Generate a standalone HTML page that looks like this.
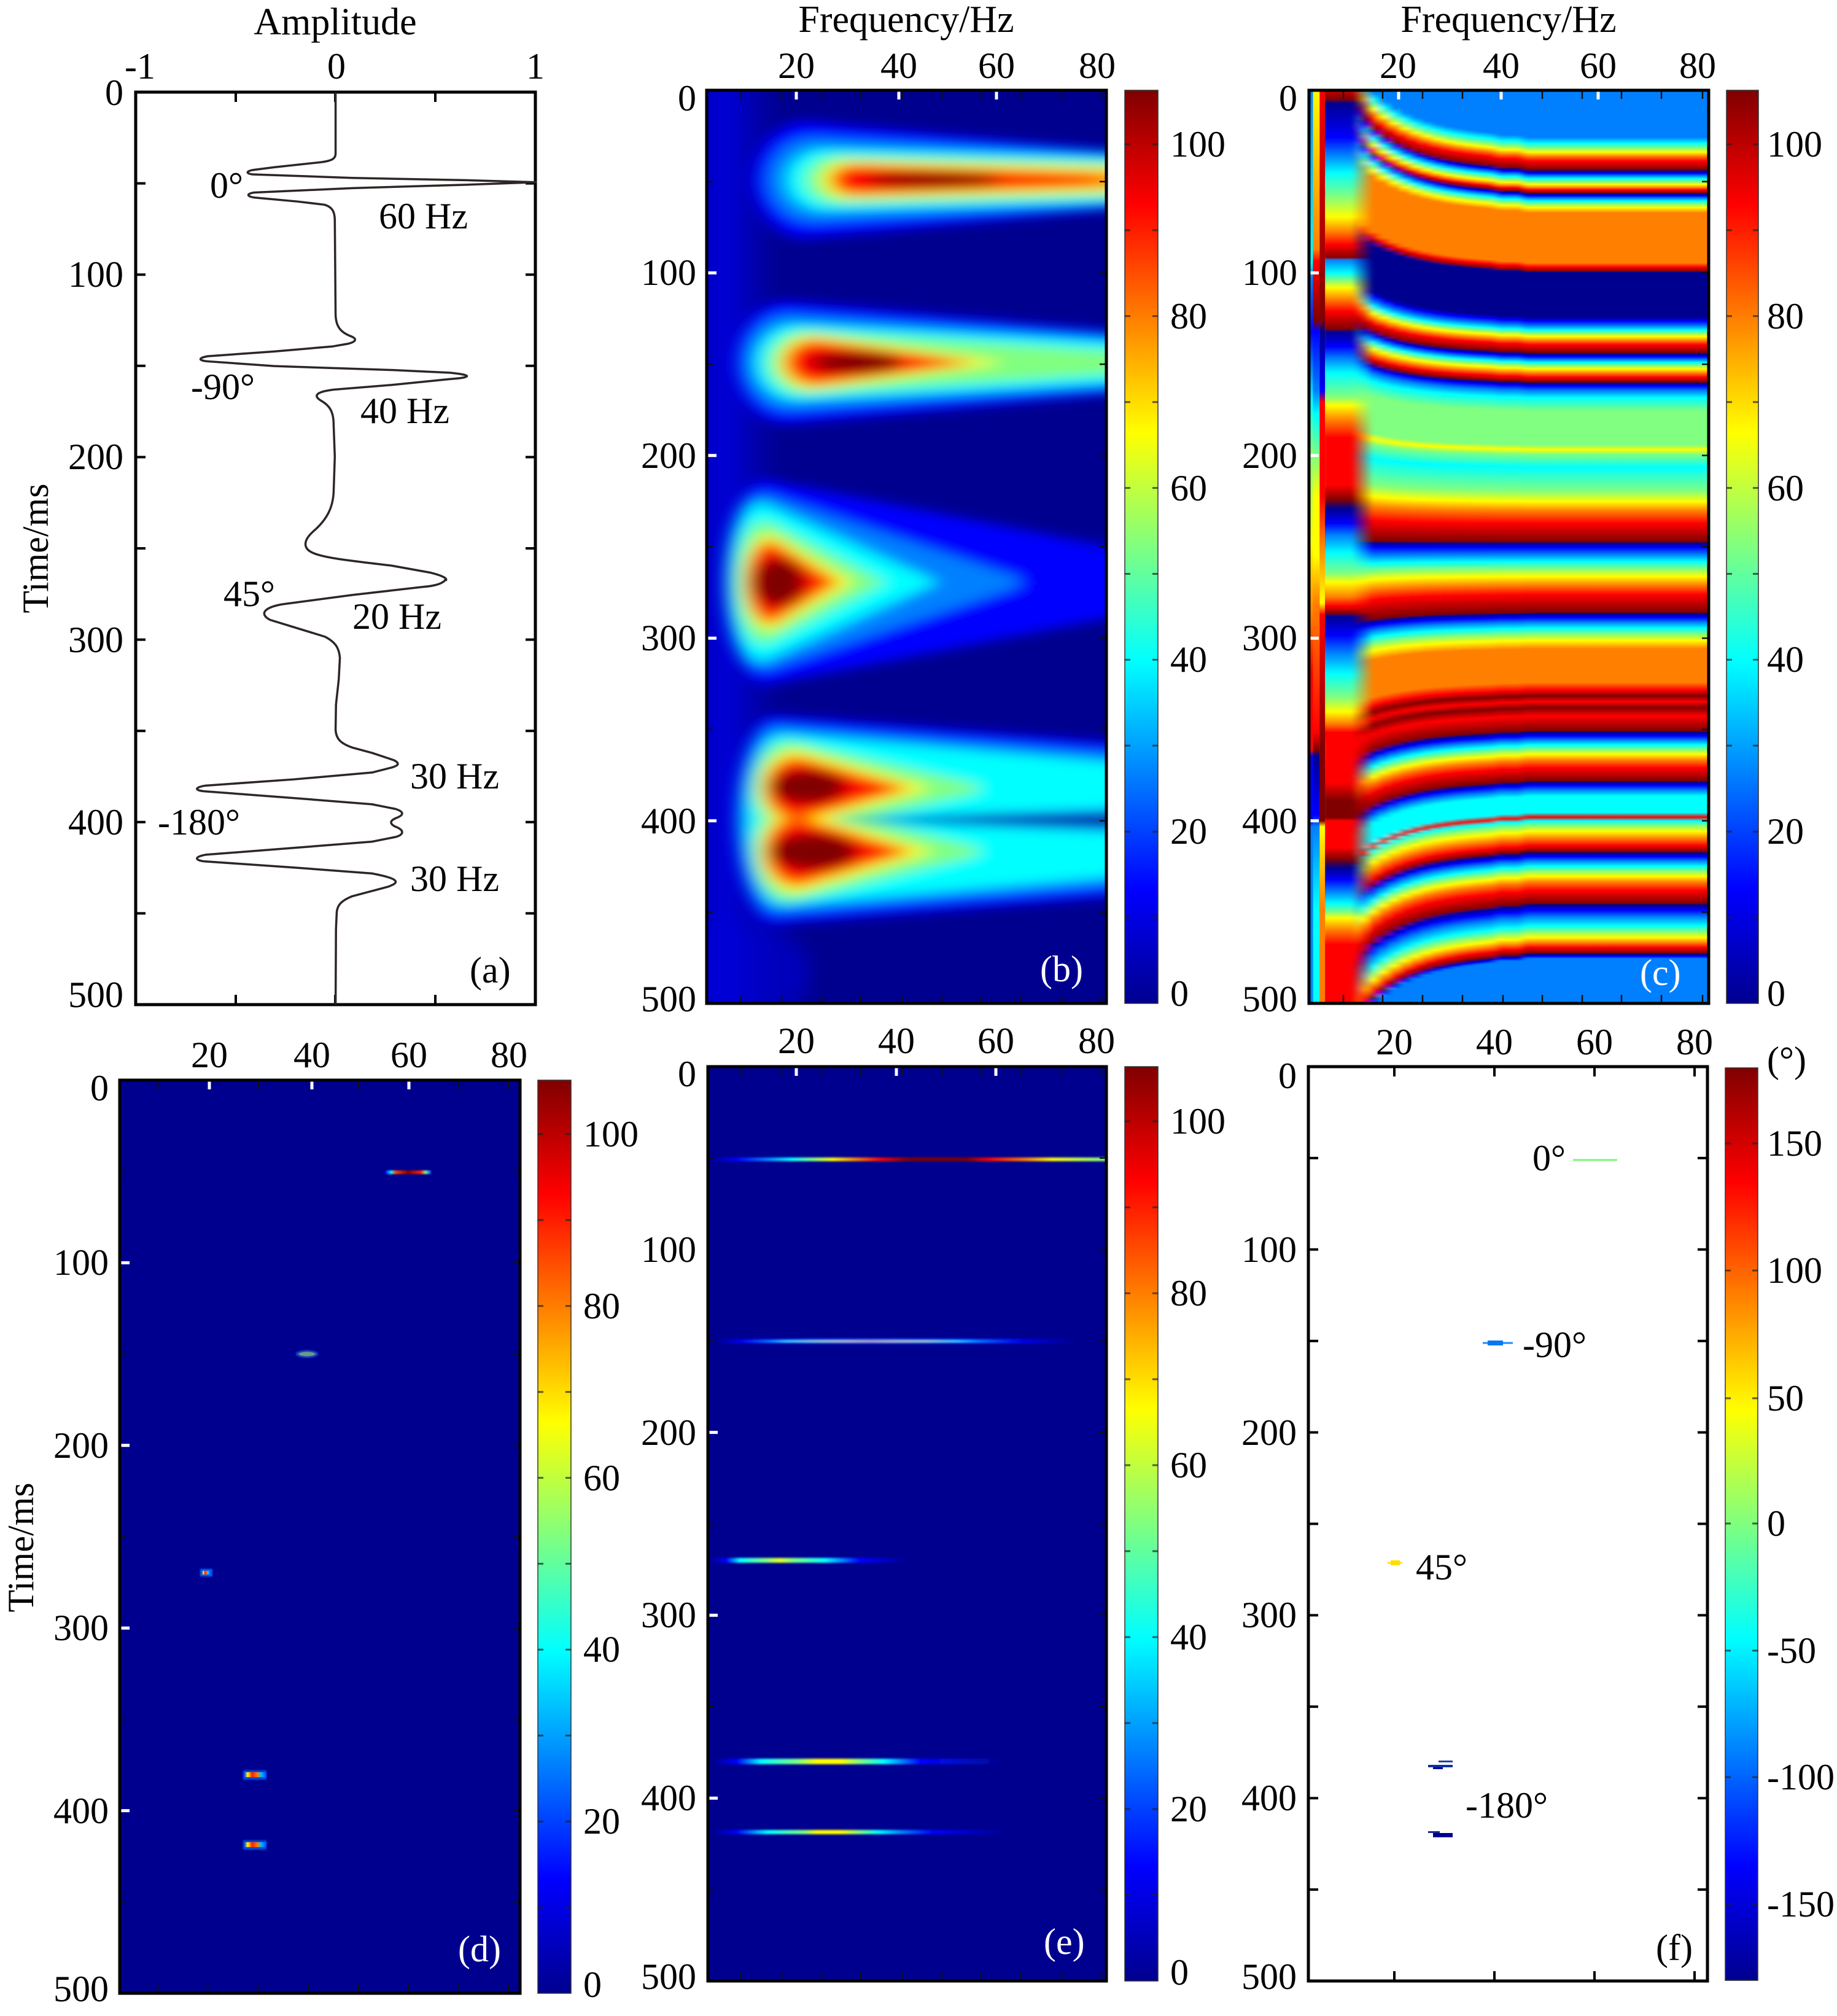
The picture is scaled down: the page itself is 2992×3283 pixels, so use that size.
<!DOCTYPE html>
<html><head><meta charset="utf-8">
<style>
html,body{margin:0;padding:0;background:#fff;width:2992px;height:3283px;overflow:hidden}
svg{display:block}
text{font-family:"Liberation Serif","Times New Roman",serif;font-size:60px;fill:#000}
</style></head>
<body>
<svg width="2992" height="3283" viewBox="0 0 2992 3283" xmlns="http://www.w3.org/2000/svg">
<defs>
<linearGradient id="jet" x1="0" y1="1" x2="0" y2="0">
<stop offset="0" stop-color="#00008F"/><stop offset=".125" stop-color="#0000FF"/><stop offset=".375" stop-color="#00FFFF"/><stop offset=".625" stop-color="#FFFF00"/><stop offset=".875" stop-color="#FF0000"/><stop offset="1" stop-color="#800000"/>
</linearGradient>
<filter id="fb" x="-5%" y="-5%" width="110%" height="110%"><feGaussianBlur stdDeviation="32 10"/></filter>
<filter id="fs" x="-10%" y="-10%" width="120%" height="120%"><feGaussianBlur stdDeviation="30 20"/></filter>
<filter id="fc" x="-5%" y="-1%" width="110%" height="102%"><feGaussianBlur stdDeviation="14 0.5"/></filter>
<filter id="fc2" x="-10%" y="-1%" width="120%" height="102%"><feGaussianBlur stdDeviation="8 1"/></filter>
<filter id="fl" x="-5%" y="-200%" width="110%" height="500%"><feGaussianBlur stdDeviation="1 1.5"/></filter>
<filter id="fd" x="-50%" y="-100%" width="200%" height="300%"><feGaussianBlur stdDeviation="1.2"/></filter>
<linearGradient id="smear" gradientUnits="userSpaceOnUse" x1="30" y1="0" x2="300" y2="0">
<stop offset="0" stop-color="#0000C8"/><stop offset=".3" stop-color="#0000D8"/><stop offset=".55" stop-color="#0000B8"/><stop offset="1" stop-color="#00008F"/>
</linearGradient>
<linearGradient id="cR" gradientUnits="userSpaceOnUse" x1="0" y1="0" x2="0" y2="10000">
<stop offset="0" stop-color="#0080FF"/><stop offset=".0090" stop-color="#0080FF"/><stop offset=".0100" stop-color="#00FFFF"/><stop offset=".0108" stop-color="#80FF80"/><stop offset=".0115" stop-color="#FFFF00"/><stop offset=".0122" stop-color="#FF8000"/><stop offset=".0130" stop-color="#FF0000"/><stop offset=".0145" stop-color="#800000"/>
<stop offset=".0147" stop-color="#00008F"/><stop offset=".0151" stop-color="#0000FF"/><stop offset=".0155" stop-color="#0080FF"/><stop offset=".0160" stop-color="#00FFFF"/><stop offset=".0165" stop-color="#80FF80"/><stop offset=".0170" stop-color="#FFFF00"/><stop offset=".0175" stop-color="#FF8000"/><stop offset=".0179" stop-color="#FF0000"/><stop offset=".0184" stop-color="#800000"/>
<stop offset=".0186" stop-color="#00008F"/><stop offset=".0189" stop-color="#0000FF"/><stop offset=".0193" stop-color="#0080FF"/><stop offset=".0198" stop-color="#00FFFF"/><stop offset=".0203" stop-color="#80FF80"/><stop offset=".0209" stop-color="#FFFF00"/><stop offset=".0218" stop-color="#FF8000"/><stop offset=".0303" stop-color="#FF8000"/><stop offset=".0310" stop-color="#FF0000"/><stop offset=".0317" stop-color="#800000"/>
<stop offset=".0319" stop-color="#00008F"/><stop offset=".0395" stop-color="#00008F"/><stop offset=".0402" stop-color="#0000FF"/><stop offset=".0410" stop-color="#0080FF"/><stop offset=".0417" stop-color="#00FFFF"/><stop offset=".0422" stop-color="#80FF80"/><stop offset=".0428" stop-color="#FFFF00"/><stop offset=".0435" stop-color="#FF8000"/><stop offset=".0442" stop-color="#FF0000"/><stop offset=".0455" stop-color="#800000"/>
<stop offset=".0458" stop-color="#00008F"/><stop offset=".0462" stop-color="#0000FF"/><stop offset=".0467" stop-color="#0080FF"/><stop offset=".0472" stop-color="#00FFFF"/><stop offset=".0477" stop-color="#80FF80"/><stop offset=".0483" stop-color="#FFFF00"/><stop offset=".0490" stop-color="#FF8000"/><stop offset=".0497" stop-color="#FF0000"/><stop offset=".0505" stop-color="#800000"/>
<stop offset=".0508" stop-color="#00008F"/><stop offset=".0512" stop-color="#0000FF"/><stop offset=".0520" stop-color="#0080FF"/><stop offset=".0532" stop-color="#00FFFF"/><stop offset=".0555" stop-color="#80FF80"/><stop offset=".0612" stop-color="#80FF80"/><stop offset=".0620" stop-color="#FFFF00"/><stop offset=".0628" stop-color="#80FF80"/><stop offset=".0650" stop-color="#00FFFF"/><stop offset=".0690" stop-color="#80FF80"/><stop offset=".0708" stop-color="#FFFF00"/><stop offset=".0724" stop-color="#FF8000"/><stop offset=".0745" stop-color="#FF0000"/><stop offset=".0776" stop-color="#800000"/>
<stop offset=".0779" stop-color="#00008F"/><stop offset=".0786" stop-color="#0000FF"/><stop offset=".0798" stop-color="#0080FF"/><stop offset=".0810" stop-color="#00FFFF"/><stop offset=".0822" stop-color="#80FF80"/><stop offset=".0835" stop-color="#FFFF00"/><stop offset=".0850" stop-color="#FF8000"/><stop offset=".0866" stop-color="#FF0000"/><stop offset=".0896" stop-color="#800000"/>
<stop offset=".0899" stop-color="#00008F"/><stop offset=".0905" stop-color="#0000FF"/><stop offset=".0913" stop-color="#0080FF"/><stop offset=".0923" stop-color="#00FFFF"/><stop offset=".0933" stop-color="#80FF80"/><stop offset=".0944" stop-color="#FFFF00"/><stop offset=".0958" stop-color="#FF8000"/><stop offset=".1015" stop-color="#FF8000"/><stop offset=".1028" stop-color="#FF0000"/><stop offset=".1038" stop-color="#800000"/><stop offset=".1048" stop-color="#FF0000"/><stop offset=".1058" stop-color="#800000"/><stop offset=".1072" stop-color="#FF0000"/><stop offset=".1097" stop-color="#800000"/>
<stop offset=".1100" stop-color="#00008F"/><stop offset=".1106" stop-color="#0000FF"/><stop offset=".1113" stop-color="#0080FF"/><stop offset=".1121" stop-color="#00FFFF"/><stop offset=".1129" stop-color="#80FF80"/><stop offset=".1137" stop-color="#FFFF00"/><stop offset=".1147" stop-color="#FF8000"/><stop offset=".1160" stop-color="#FF0000"/><stop offset=".1182" stop-color="#800000"/>
<stop offset=".1185" stop-color="#00008F"/><stop offset=".1190" stop-color="#0000FF"/><stop offset=".1198" stop-color="#0080FF"/><stop offset=".1208" stop-color="#00FFFF"/><stop offset=".1236" stop-color="#00FFFF"/><stop offset=".1244" stop-color="#FF0000"/><stop offset=".1250" stop-color="#00FFFF"/><stop offset=".1258" stop-color="#80FF80"/><stop offset=".1268" stop-color="#FFFF00"/><stop offset=".1280" stop-color="#FF8000"/><stop offset=".1292" stop-color="#FF0000"/><stop offset=".1302" stop-color="#800000"/>
<stop offset=".1305" stop-color="#00008F"/><stop offset=".1311" stop-color="#0000FF"/><stop offset=".1318" stop-color="#0080FF"/><stop offset=".1327" stop-color="#00FFFF"/><stop offset=".1335" stop-color="#80FF80"/><stop offset=".1344" stop-color="#FFFF00"/><stop offset=".1354" stop-color="#FF8000"/><stop offset=".1368" stop-color="#FF0000"/><stop offset=".1390" stop-color="#800000"/>
<stop offset=".1393" stop-color="#00008F"/><stop offset=".1402" stop-color="#0000FF"/><stop offset=".1413" stop-color="#0080FF"/><stop offset=".1428" stop-color="#00FFFF"/><stop offset=".1438" stop-color="#80FF80"/><stop offset=".1448" stop-color="#FFFF00"/><stop offset=".1457" stop-color="#FF8000"/><stop offset=".1465" stop-color="#FF0000"/><stop offset=".1474" stop-color="#800000"/>
<stop offset=".1477" stop-color="#00008F"/><stop offset=".1480" stop-color="#0000FF"/><stop offset=".1484" stop-color="#0080FF"/><stop offset="1" stop-color="#0080FF"/>
</linearGradient>
<linearGradient id="s02" href="#cR" gradientUnits="userSpaceOnUse" x1="0" y1="0" x2="0" y2="10000" gradientTransform="matrix(1 0 0 1.1978 0 -155.3)"/>
<linearGradient id="s03" href="#cR" gradientUnits="userSpaceOnUse" x1="0" y1="0" x2="0" y2="10000" gradientTransform="matrix(1 0 0 1.1620 0 -127.2)"/>
<linearGradient id="s04" href="#cR" gradientUnits="userSpaceOnUse" x1="0" y1="0" x2="0" y2="10000" gradientTransform="matrix(1 0 0 1.1326 0 -104.1)"/>
<linearGradient id="s05" href="#cR" gradientUnits="userSpaceOnUse" x1="0" y1="0" x2="0" y2="10000" gradientTransform="matrix(1 0 0 1.1086 0 -85.2)"/>
<linearGradient id="s06" href="#cR" gradientUnits="userSpaceOnUse" x1="0" y1="0" x2="0" y2="10000" gradientTransform="matrix(1 0 0 1.0889 0 -69.8)"/>
<linearGradient id="s07" href="#cR" gradientUnits="userSpaceOnUse" x1="0" y1="0" x2="0" y2="10000" gradientTransform="matrix(1 0 0 1.0728 0 -57.1)"/>
<linearGradient id="s08" href="#cR" gradientUnits="userSpaceOnUse" x1="0" y1="0" x2="0" y2="10000" gradientTransform="matrix(1 0 0 1.0596 0 -46.8)"/>
<linearGradient id="s09" href="#cR" gradientUnits="userSpaceOnUse" x1="0" y1="0" x2="0" y2="10000" gradientTransform="matrix(1 0 0 1.0488 0 -38.3)"/>
<linearGradient id="s10" href="#cR" gradientUnits="userSpaceOnUse" x1="0" y1="0" x2="0" y2="10000" gradientTransform="matrix(1 0 0 1.0399 0 -31.4)"/>
<linearGradient id="s11" href="#cR" gradientUnits="userSpaceOnUse" x1="0" y1="0" x2="0" y2="10000" gradientTransform="matrix(1 0 0 1.0327 0 -25.7)"/>
<linearGradient id="s12" href="#cR" gradientUnits="userSpaceOnUse" x1="0" y1="0" x2="0" y2="10000" gradientTransform="matrix(1 0 0 1.0268 0 -21.0)"/>
<linearGradient id="s13" href="#cR" gradientUnits="userSpaceOnUse" x1="0" y1="0" x2="0" y2="10000" gradientTransform="matrix(1 0 0 1.0219 0 -17.2)"/>
<linearGradient id="s14" href="#cR" gradientUnits="userSpaceOnUse" x1="0" y1="0" x2="0" y2="10000" gradientTransform="matrix(1 0 0 1.0180 0 -14.1)"/>
<linearGradient id="s15" href="#cR" gradientUnits="userSpaceOnUse" x1="0" y1="0" x2="0" y2="10000" gradientTransform="matrix(1 0 0 1.0147 0 -11.5)"/>
<linearGradient id="s16" href="#cR" gradientUnits="userSpaceOnUse" x1="0" y1="0" x2="0" y2="10000" gradientTransform="matrix(1 0 0 1.0120 0 -9.4)"/>
<linearGradient id="s17" href="#cR" gradientUnits="userSpaceOnUse" x1="0" y1="0" x2="0" y2="10000" gradientTransform="matrix(1 0 0 1.0060 0 -4.7)"/>
<linearGradient id="cB" gradientUnits="userSpaceOnUse" x1="0" y1="0" x2="0" y2="10000">
<stop offset="0" stop-color="#FF0000"/><stop offset=".0025" stop-color="#800000"/><stop offset=".0032" stop-color="#00008F"/><stop offset=".0090" stop-color="#0000FF"/><stop offset=".0120" stop-color="#0080FF"/><stop offset=".0150" stop-color="#00FFFF"/><stop offset=".0190" stop-color="#80FF80"/><stop offset=".0225" stop-color="#FFFF00"/><stop offset=".0250" stop-color="#FF8000"/><stop offset=".0272" stop-color="#FF0000"/><stop offset=".0295" stop-color="#800000"/><stop offset=".0298" stop-color="#0080FF"/><stop offset=".0320" stop-color="#00FFFF"/><stop offset=".0345" stop-color="#FFFF00"/><stop offset=".0365" stop-color="#FF8000"/><stop offset=".0385" stop-color="#FF0000"/><stop offset=".0415" stop-color="#800000"/><stop offset=".0420" stop-color="#00008F"/><stop offset=".0445" stop-color="#0000FF"/><stop offset=".0465" stop-color="#0080FF"/><stop offset=".0490" stop-color="#00FFFF"/><stop offset=".0530" stop-color="#80FF80"/><stop offset=".0545" stop-color="#FFFF00"/><stop offset=".0570" stop-color="#FF8000"/><stop offset=".0600" stop-color="#FF0000"/><stop offset=".0680" stop-color="#FF0000"/><stop offset=".0705" stop-color="#800000"/><stop offset=".0720" stop-color="#00008F"/><stop offset=".0745" stop-color="#0000FF"/><stop offset=".0765" stop-color="#0080FF"/><stop offset=".0795" stop-color="#00FFFF"/><stop offset=".0830" stop-color="#80FF80"/><stop offset=".0845" stop-color="#FFFF00"/><stop offset=".0870" stop-color="#FF8000"/><stop offset=".0885" stop-color="#FF0000"/><stop offset=".0898" stop-color="#800000"/><stop offset=".0902" stop-color="#00008F"/><stop offset=".0935" stop-color="#0000FF"/><stop offset=".0965" stop-color="#0080FF"/><stop offset=".1000" stop-color="#00FFFF"/><stop offset=".1040" stop-color="#80FF80"/><stop offset=".1065" stop-color="#FFFF00"/><stop offset=".1085" stop-color="#FF8000"/><stop offset=".1100" stop-color="#FF0000"/><stop offset=".1185" stop-color="#FF0000"/><stop offset=".1215" stop-color="#800000"/><stop offset=".1245" stop-color="#800000"/><stop offset=".1250" stop-color="#FF0000"/><stop offset=".1295" stop-color="#FF0000"/><stop offset=".1315" stop-color="#800000"/><stop offset=".1330" stop-color="#00008F"/><stop offset=".1350" stop-color="#0000FF"/><stop offset=".1370" stop-color="#0080FF"/><stop offset=".1390" stop-color="#00FFFF"/><stop offset=".1405" stop-color="#80FF80"/><stop offset=".1415" stop-color="#FFFF00"/><stop offset=".1435" stop-color="#FF8000"/><stop offset=".1460" stop-color="#FF0000"/><stop offset="1" stop-color="#FF0000"/>
</linearGradient>
<linearGradient id="fadeB" gradientUnits="userSpaceOnUse" x1="90" y1="0" x2="270" y2="0">
<stop offset="0" stop-color="#fff"/><stop offset=".55" stop-color="#fff"/><stop offset="1" stop-color="#000"/>
</linearGradient>
<mask id="mB" maskUnits="userSpaceOnUse" x="0" y="0" width="1600" height="1600"><rect x="80" y="0" width="200" height="1600" fill="url(#fadeB)"/></mask>
<linearGradient id="cA1" gradientUnits="userSpaceOnUse" x1="0" y1="0" x2="0" y2="10000">
<stop offset="0" stop-color="#0080FF"/><stop offset=".0300" stop-color="#00FFFF"/><stop offset=".0330" stop-color="#0080FF"/><stop offset=".0420" stop-color="#0000FF"/><stop offset=".0540" stop-color="#00FFFF"/><stop offset=".0620" stop-color="#80FF80"/><stop offset=".0780" stop-color="#FFFF00"/><stop offset=".0900" stop-color="#FF8000"/><stop offset=".1000" stop-color="#FF0000"/><stop offset=".1130" stop-color="#FF0000"/><stop offset=".1140" stop-color="#0000FF"/><stop offset=".1250" stop-color="#0000FF"/><stop offset=".1260" stop-color="#0080FF"/><stop offset="1" stop-color="#0080FF"/>
</linearGradient>
<linearGradient id="cA2" gradientUnits="userSpaceOnUse" x1="0" y1="0" x2="0" y2="10000">
<stop offset="0" stop-color="#FFFF00"/><stop offset=".0280" stop-color="#FF8000"/><stop offset=".0300" stop-color="#FF0000"/><stop offset=".0400" stop-color="#800000"/><stop offset=".0420" stop-color="#0000FF"/><stop offset=".0520" stop-color="#0080FF"/><stop offset=".0560" stop-color="#00FFFF"/><stop offset=".0700" stop-color="#FFFF00"/><stop offset=".0800" stop-color="#FFFF00"/><stop offset=".0880" stop-color="#FF8000"/><stop offset=".1100" stop-color="#FF0000"/><stop offset=".1130" stop-color="#800000"/><stop offset=".1140" stop-color="#00008F"/><stop offset=".1240" stop-color="#0000FF"/><stop offset=".1260" stop-color="#0080FF"/><stop offset=".1400" stop-color="#00FFFF"/><stop offset="1" stop-color="#00FFFF"/>
</linearGradient>
<linearGradient id="cA3" gradientUnits="userSpaceOnUse" x1="0" y1="0" x2="0" y2="10000">
<stop offset="0" stop-color="#FF0000"/><stop offset=".0400" stop-color="#800000"/><stop offset=".0420" stop-color="#00008F"/><stop offset=".0520" stop-color="#0000FF"/><stop offset=".0540" stop-color="#FF0000"/><stop offset=".0700" stop-color="#FF0000"/><stop offset=".0780" stop-color="#FF8000"/><stop offset=".0880" stop-color="#FFFF00"/><stop offset=".0900" stop-color="#FF0000"/><stop offset=".1130" stop-color="#800000"/><stop offset=".1250" stop-color="#800000"/><stop offset=".1260" stop-color="#FFFF00"/><stop offset=".1400" stop-color="#FF8000"/><stop offset="1" stop-color="#FF0000"/>
</linearGradient>
<linearGradient id="e50"><stop offset="0" stop-color="#00008F"/><stop offset=".072" stop-color="#0000FF"/><stop offset=".149" stop-color="#0080FF"/><stop offset=".211" stop-color="#00FFFF"/><stop offset=".314" stop-color="#FFFF00"/><stop offset=".373" stop-color="#FF8000"/><stop offset=".433" stop-color="#FF0000"/><stop offset=".501" stop-color="#800000"/><stop offset=".649" stop-color="#800000"/><stop offset=".707" stop-color="#FF0000"/><stop offset=".797" stop-color="#FF8000"/><stop offset=".864" stop-color="#FFFF00"/><stop offset="1" stop-color="#80FF80"/></linearGradient>
<linearGradient id="e150h"><stop offset=".02" stop-color="#00008F"/><stop offset=".1" stop-color="#0000E0"/><stop offset=".25" stop-color="#0050FF"/><stop offset=".45" stop-color="#0060FF"/><stop offset=".65" stop-color="#0040FF"/><stop offset=".8" stop-color="#0000D0"/><stop offset=".93" stop-color="#00008F"/></linearGradient>
<linearGradient id="e150"><stop offset=".02" stop-color="#00008F"/><stop offset=".08" stop-color="#0000FF"/><stop offset=".149" stop-color="#0080FF"/><stop offset=".196" stop-color="#40E0FF"/><stop offset=".288" stop-color="#B0E080"/><stop offset=".35" stop-color="#C8D070"/><stop offset=".411" stop-color="#C8B070"/><stop offset=".473" stop-color="#C8D070"/><stop offset=".55" stop-color="#B0E080"/><stop offset=".627" stop-color="#40E0FF"/><stop offset=".689" stop-color="#0080FF"/><stop offset=".781" stop-color="#0000FF"/><stop offset=".915" stop-color="#00008F"/></linearGradient>
<linearGradient id="e270"><stop offset=".006" stop-color="#00008F"/><stop offset=".046" stop-color="#0000FF"/><stop offset=".08" stop-color="#00FFFF"/><stop offset=".146" stop-color="#80FF80"/><stop offset=".18" stop-color="#E0FF20"/><stop offset=".214" stop-color="#80FF80"/><stop offset=".294" stop-color="#00FFFF"/><stop offset=".381" stop-color="#0000FF"/><stop offset=".5" stop-color="#00008F"/></linearGradient>
<linearGradient id="e380"><stop offset=".014" stop-color="#00008F"/><stop offset=".072" stop-color="#0000FF"/><stop offset=".134" stop-color="#00FFFF"/><stop offset=".226" stop-color="#80FF80"/><stop offset=".273" stop-color="#FFFF00"/><stop offset=".334" stop-color="#FFFF00"/><stop offset=".381" stop-color="#80FF80"/><stop offset=".442" stop-color="#00FFFF"/><stop offset=".488" stop-color="#0080FF"/><stop offset=".535" stop-color="#0000FF"/><stop offset=".65" stop-color="#0010C0"/><stop offset=".743" stop-color="#00008F"/></linearGradient>
<linearGradient id="e420"><stop offset=".014" stop-color="#00008F"/><stop offset=".072" stop-color="#0000FF"/><stop offset=".149" stop-color="#00FFFF"/><stop offset=".242" stop-color="#80FF80"/><stop offset=".273" stop-color="#FFFF00"/><stop offset=".334" stop-color="#FFFF00"/><stop offset=".381" stop-color="#80FF80"/><stop offset=".427" stop-color="#00FFFF"/><stop offset=".488" stop-color="#0080FF"/><stop offset=".565" stop-color="#0000FF"/><stop offset=".75" stop-color="#00008F"/></linearGradient>
<linearGradient id="d50"><stop offset="0" stop-color="#0000FF"/><stop offset=".12" stop-color="#00FFFF"/><stop offset=".22" stop-color="#FF4000"/><stop offset=".5" stop-color="#800000"/><stop offset=".78" stop-color="#FF2000"/><stop offset=".88" stop-color="#80FF80"/><stop offset="1" stop-color="#0040FF"/></linearGradient>
<linearGradient id="dsp"><stop offset="0" stop-color="#0040FF"/><stop offset=".15" stop-color="#FFFF00"/><stop offset=".35" stop-color="#FF2000"/><stop offset=".6" stop-color="#FF8000"/><stop offset=".75" stop-color="#00C0FF"/><stop offset="1" stop-color="#0040FF"/></linearGradient>
</defs>

<!-- ================= PANEL A ================= -->
<text x="546" y="56" text-anchor="middle" style="font-size:62px">Amplitude</text>
<text x="228" y="128" text-anchor="middle">-1</text>
<text x="548" y="128" text-anchor="middle">0</text>
<text x="872" y="128" text-anchor="middle">1</text>
<g text-anchor="end">
<text x="201" y="171">0</text><text x="201" y="467">100</text><text x="201" y="764">200</text><text x="201" y="1062">300</text><text x="201" y="1359">400</text><text x="201" y="1640">500</text>
</g>
<text transform="translate(78,893) rotate(-90)" text-anchor="middle">Time/ms</text>
<rect x="221" y="150" width="651" height="1486" fill="#fff" stroke="#000" stroke-width="5"/>
<path d="M384,150v16M546,150v16M709,150v16M384,1636v-16M546,1636v-16M709,1636v-16" stroke="#000" stroke-width="4"/>
<path d="M221,298.6h16M221,447.2h16M221,595.8h16M221,744.4h16M221,893h16M221,1041.6h16M221,1190.2h16M221,1338.8h16M221,1487.4h16M872,298.6h-16M872,447.2h-16M872,595.8h-16M872,744.4h-16M872,893h-16M872,1041.6h-16M872,1190.2h-16M872,1338.8h-16M872,1487.4h-16" stroke="#000" stroke-width="4"/>
<g fill="none" stroke="#2e2626" stroke-width="3.5" stroke-linejoin="round">
<path transform="scale(0.6378,0.641)" vector-effect="non-scaling-stroke" d="M857,235 L857,390 C857,402 850,408 820,412 L700,425 L645,432 C628,435 628,441 645,443 L900,452 L1200,458 L1368,463 L1200,469 L900,478 L650,489 C628,492 630,499 650,502 L760,512 L828,520 C850,526 855,540 855,560 L857,800 C858,830 870,845 898,855 C914,862 906,869 890,873 L850,880 L700,893 L530,905 C504,910 508,916 530,918 L700,930 L1000,940 L1150,947 C1208,953 1205,959 1150,963 L1000,978 L850,990 C805,996 800,1006 820,1018 C845,1032 852,1050 852,1080 L855,1160 L852,1250 C850,1290 835,1320 800,1350 C772,1375 775,1395 800,1405 C830,1418 900,1425 1000,1437 L1100,1455 C1140,1465 1142,1472 1138,1475"/>
<path transform="translate(0,904) scale(0.6378,0.5072)" vector-effect="non-scaling-stroke" d="M1138,78 C1130,95 1100,100 1080,102 L900,128 L720,158 C668,170 665,192 690,208 L760,235 L830,262 C858,280 866,300 868,330 L865,400 L858,480 L857,560 C858,590 870,605 900,618 L950,635 L1005,658 C1022,668 1018,676 1000,682 L950,698 L750,720 L525,740 C495,746 498,755 520,758 L750,780 L950,800 L1010,815 C1035,825 1030,836 1010,845 C995,853 995,863 1010,872 C1035,884 1030,898 1010,905 L950,920 L750,940 L525,962 C495,969 498,979 520,983 L750,1003 L950,1022 C1025,1040 1020,1052 990,1065 L900,1095 C870,1110 862,1125 860,1145 L858,1200 L857,1443"/>
</g>
<text x="342" y="322">0°</text>
<text x="617" y="372">60 Hz</text>
<text x="311" y="650">-90°</text>
<text x="587" y="689">40 Hz</text>
<text x="364" y="987">45°</text>
<text x="574" y="1024">20 Hz</text>
<text x="668" y="1284">30 Hz</text>
<text x="257" y="1359">-180°</text>
<text x="668" y="1451">30 Hz</text>
<text x="765" y="1600">(a)</text>

<!-- ================= PANEL B ================= -->
<text x="1476" y="52" text-anchor="middle" style="font-size:62px">Frequency/Hz</text>
<g text-anchor="middle"><text x="1297" y="127">20</text><text x="1464" y="127">40</text><text x="1623" y="127">60</text><text x="1787" y="127">80</text></g>
<g text-anchor="end"><text x="1134" y="180">0</text><text x="1134" y="464">100</text><text x="1134" y="762">200</text><text x="1134" y="1059">300</text><text x="1134" y="1357">400</text><text x="1134" y="1647">500</text></g>
<svg x="1151" y="147" width="651" height="1487" viewBox="30 10 1498 1550" preserveAspectRatio="none">
<rect x="-50" y="-50" width="1700" height="1700" fill="#00008F"/>
<g filter="url(#fs)">
<rect x="0" y="-50" width="300" height="1700" fill="url(#smear)"/>
<ellipse cx="160" cy="1510" rx="260" ry="90" fill="#0000D8" opacity=".6"/>
</g>
<g filter="url(#fb)">
<path fill="#0000FF" d="M200,162 A200,100 0 0 1 400,62 L1600,114 L1600,210 L400,262 A200,100 0 0 1 200,162Z"/>
<path fill="#0080FF" d="M260,162 A170,72 0 0 1 430,90 L1600,120 L1600,204 L430,234 A170,72 0 0 1 260,162Z"/>
<path fill="#00FFFF" d="M330,162 A140,52 0 0 1 470,110 L1600,126 L1600,198 L470,214 A140,52 0 0 1 330,162Z"/>
<path fill="#80FF80" d="M400,162 A120,40 0 0 1 520,122 L1600,134 L1600,190 L520,202 A120,40 0 0 1 400,162Z"/>
<path fill="#FFFF00" d="M460,162 A110,32 0 0 1 570,130 L1600,142 L1600,182 L570,194 A110,32 0 0 1 460,162Z"/>
<path fill="#FF8000" d="M490,162 A100,27 0 0 1 590,135 L1600,150 L1600,174 L590,189 A100,27 0 0 1 490,162Z"/>
<path fill="#FF0000" d="M515,162 A100,22 0 0 1 615,140 L1480,156 L1480,168 L615,184 A100,22 0 0 1 515,162Z"/>
<ellipse cx="880" cy="162" rx="250" ry="12" fill="#800000"/>

<path fill="#0000FF" d="M130,472 A200,105 0 0 1 330,367 L1600,420 L1600,524 L330,577 A200,105 0 0 1 130,472Z"/>
<path fill="#0080FF" d="M170,472 A170,82 0 0 1 340,390 L1600,430 L1600,514 L340,554 A170,82 0 0 1 170,472Z"/>
<path fill="#00FFFF" d="M215,472 A150,64 0 0 1 365,408 L1600,439 L1600,505 L365,536 A150,64 0 0 1 215,472Z"/>
<path fill="#80FF80" d="M260,472 A140,53 0 0 1 400,419 L1600,454 L1600,490 L400,525 A140,53 0 0 1 260,472Z"/>
<path fill="#FFFF00" d="M300,472 A130,46 0 0 1 430,426 L1150,472 L430,518 A130,46 0 0 1 300,472Z"/>
<path fill="#FF8000" d="M320,472 A120,40 0 0 1 440,432 L1050,472 L440,512 A120,40 0 0 1 320,472Z"/>
<path fill="#FF0000" d="M340,472 A120,33 0 0 1 460,439 L1000,472 L460,505 A120,33 0 0 1 340,472Z"/>
<ellipse cx="590" cy="472" rx="170" ry="18" fill="#800000"/>

<path fill="#0000FF" d="M95,845 A150,175 0 0 1 245,670 L1600,790 L1600,900 L245,1020 A150,175 0 0 1 95,845Z"/>
<path fill="#0080FF" d="M105,845 A140,150 0 0 1 245,695 L1200,838 L1200,852 L245,995 A140,150 0 0 1 105,845Z"/>
<path fill="#00FFFF" d="M118,845 A120,135 0 0 1 238,710 L900,845 L238,980 A120,135 0 0 1 118,845Z"/>
<path fill="#80FF80" d="M140,845 A110,105 0 0 1 250,740 L700,845 L250,950 A110,105 0 0 1 140,845Z"/>
<path fill="#FFFF00" d="M170,845 A100,82 0 0 1 270,763 L580,845 L270,927 A100,82 0 0 1 170,845Z"/>
<path fill="#FF8000" d="M175,845 A100,72 0 0 1 275,773 L530,845 L275,917 A100,72 0 0 1 175,845Z"/>
<path fill="#FF0000" d="M182,845 A100,62 0 0 1 282,783 L500,845 L282,907 A100,62 0 0 1 182,845Z"/>
<ellipse cx="300" cy="845" rx="95" ry="40" fill="#800000"/>

<path fill="#0000FF" d="M130,1248 A150,178 0 0 1 280,1070 L1600,1118 L1600,1378 L280,1426 A150,178 0 0 1 130,1248Z"/>
<path fill="#0080FF" d="M155,1248 A140,160 0 0 1 295,1088 L1600,1136 L1600,1360 L295,1408 A140,160 0 0 1 155,1248Z"/>
<path fill="#00FFFF" d="M180,1248 A130,145 0 0 1 310,1103 L1600,1153 L1600,1343 L310,1393 A130,145 0 0 1 180,1248Z"/>
<path fill="#80FF80" d="M205,1195 A140,80 0 0 1 345,1115 L1050,1189 L1050,1201 L345,1275 A140,80 0 0 1 205,1195Z"/>
<path fill="#80FF80" d="M205,1302 A140,85 0 0 1 345,1217 L1050,1296 L1050,1308 L345,1387 A140,85 0 0 1 205,1302Z"/>
<path fill="#FFFF00" d="M232,1195 A140,65 0 0 1 372,1130 L870,1195 L372,1260 A140,65 0 0 1 232,1195Z"/>
<path fill="#FFFF00" d="M232,1302 A140,70 0 0 1 372,1232 L880,1302 L372,1372 A140,70 0 0 1 232,1302Z"/>
<path fill="#FF8000" d="M245,1195 A130,55 0 0 1 375,1140 L800,1195 L375,1250 A130,55 0 0 1 245,1195Z"/>
<path fill="#FF8000" d="M245,1302 A130,60 0 0 1 375,1242 L810,1302 L375,1362 A130,60 0 0 1 245,1302Z"/>
<path fill="#FF0000" d="M255,1195 A130,47 0 0 1 385,1148 L760,1195 L385,1242 A130,47 0 0 1 255,1195Z"/>
<path fill="#FF0000" d="M255,1302 A130,52 0 0 1 385,1250 L770,1302 L385,1354 A130,52 0 0 1 255,1302Z"/>
<ellipse cx="410" cy="1192" rx="140" ry="28" fill="#800000"/>
<ellipse cx="430" cy="1302" rx="160" ry="30" fill="#800000"/>
<path fill="#0080FF" d="M460,1248 L1600,1228 L1600,1270Z"/>
<path fill="#00008F" d="M500,1248 L1600,1238 L1600,1260Z"/>
</g>
</svg>
<path d="M1297,149v13M1464,149v13M1623,149v13M1153,444.4h14M1153,741.8h14M1153,1039.2h14M1153,1336.6h14" stroke="#fff" stroke-width="5"/>
<path d="M1207,149v12M1273,149v12M1338,149v12M1402,149v12M1469,149v12M1534,149v12M1598,149v12M1663,149v12M1729,149v12M1794,149v12M1207,1632v-12M1273,1632v-12M1338,1632v-12M1402,1632v-12M1469,1632v-12M1534,1632v-12M1598,1632v-12M1663,1632v-12M1729,1632v-12M1794,1632v-12M1153,295.7h8M1153,593.1h8M1153,890.5h8M1153,1187.9h8M1153,1485.3h8M1800,295.7h-9M1800,444.4h-9M1800,593.1h-9M1800,741.8h-9M1800,890.5h-9M1800,1039.2h-9M1800,1187.9h-9M1800,1336.6h-9M1800,1485.3h-9" stroke="#111" stroke-width="2.5"/>
<rect x="1151" y="147" width="651" height="1487" fill="none" stroke="#000" stroke-width="5"/>
<text x="1694" y="1598" style="fill:#fff">(b)</text>
<rect x="1832" y="147" width="54" height="1487" fill="url(#jet)" stroke="#333" stroke-width="1.5"/>
<path d="M1832,1494.1h9M1832,1354.2h9M1832,1214.3h9M1832,1074.4h9M1832,934.5h9M1832,794.6h9M1832,654.7h9M1832,514.8h9M1832,374.9h9M1832,235h9M1886,1494.1h-9M1886,1354.2h-9M1886,1214.3h-9M1886,1074.4h-9M1886,934.5h-9M1886,794.6h-9M1886,654.7h-9M1886,514.8h-9M1886,374.9h-9M1886,235h-9" stroke="#222" stroke-width="3" opacity=".7"/>
<g><text x="1906" y="255">100</text><text x="1906" y="535">80</text><text x="1906" y="815">60</text><text x="1906" y="1094">40</text><text x="1906" y="1374">20</text><text x="1906" y="1638">0</text></g>

<!-- ================= PANEL C ================= -->
<text x="2457" y="52" text-anchor="middle" style="font-size:62px">Frequency/Hz</text>
<g text-anchor="middle"><text x="2277" y="127">20</text><text x="2445" y="127">40</text><text x="2603" y="127">60</text><text x="2765" y="127">80</text></g>
<g text-anchor="end"><text x="2113" y="180">0</text><text x="2113" y="464">100</text><text x="2113" y="762">200</text><text x="2113" y="1059">300</text><text x="2113" y="1357">400</text><text x="2113" y="1647">500</text></g>
<svg x="2132" y="147" width="651" height="1487" viewBox="30 10 1498 1550" preserveAspectRatio="none">
<rect x="0" y="0" width="1600" height="1600" fill="url(#cR)"/>
<g filter="url(#fc)">
<rect x="130" y="0" width="41" height="1600" fill="url(#s02)"/>
<rect x="170" y="0" width="41" height="1600" fill="url(#s03)"/>
<rect x="210" y="0" width="41" height="1600" fill="url(#s04)"/>
<rect x="250" y="0" width="41" height="1600" fill="url(#s05)"/>
<rect x="290" y="0" width="41" height="1600" fill="url(#s06)"/>
<rect x="330" y="0" width="41" height="1600" fill="url(#s07)"/>
<rect x="370" y="0" width="41" height="1600" fill="url(#s08)"/>
<rect x="410" y="0" width="41" height="1600" fill="url(#s09)"/>
<rect x="450" y="0" width="41" height="1600" fill="url(#s10)"/>
<rect x="490" y="0" width="41" height="1600" fill="url(#s11)"/>
<rect x="530" y="0" width="41" height="1600" fill="url(#s12)"/>
<rect x="570" y="0" width="41" height="1600" fill="url(#s13)"/>
<rect x="610" y="0" width="41" height="1600" fill="url(#s14)"/>
<rect x="650" y="0" width="41" height="1600" fill="url(#s15)"/>
<rect x="690" y="0" width="41" height="1600" fill="url(#s16)"/>
<rect x="730" y="0" width="100" height="1600" fill="url(#s17)"/>
</g>
<g filter="url(#fc2)">
<rect x="80" y="0" width="200" height="1600" fill="url(#cB)" mask="url(#mB)"/>
</g>
<rect x="0" y="0" width="45" height="1600" fill="url(#cA1)"/>
<rect x="45" y="0" width="25" height="1600" fill="url(#cA2)"/>
<rect x="70" y="0" width="20" height="1600" fill="url(#cA3)"/>
</svg>
<path d="M2278,149v13M2445,149v13M2603,149v13M2134,444.4h14M2134,741.8h14M2134,1039.2h14M2134,1336.6h14" stroke="#fff" stroke-width="5"/>
<path d="M2188,149v12M2252,149v12M2317,149v12M2382,149v12M2512,149v12M2577,149v12M2641,149v12M2706,149v12M2773,149v12M2188,1632v-12M2252,1632v-12M2317,1632v-12M2382,1632v-12M2448,1632v-12M2512,1632v-12M2577,1632v-12M2641,1632v-12M2706,1632v-12M2773,1632v-12M2781,295.7h-9M2781,444.4h-9M2781,593.1h-9M2781,741.8h-9M2781,890.5h-9M2781,1039.2h-9M2781,1187.9h-9M2781,1336.6h-9M2781,1485.3h-9" stroke="#111" stroke-width="2.5"/>
<rect x="2132" y="147" width="651" height="1487" fill="none" stroke="#000" stroke-width="5"/>
<text x="2671" y="1604" style="fill:#fff">(c)</text>
<rect x="2812" y="147" width="52" height="1487" fill="url(#jet)" stroke="#333" stroke-width="1.5"/>
<path d="M2812,1494.1h9M2812,1354.2h9M2812,1214.3h9M2812,1074.4h9M2812,934.5h9M2812,794.6h9M2812,654.7h9M2812,514.8h9M2812,374.9h9M2812,235h9M2864,1494.1h-9M2864,1354.2h-9M2864,1214.3h-9M2864,1074.4h-9M2864,934.5h-9M2864,794.6h-9M2864,654.7h-9M2864,514.8h-9M2864,374.9h-9M2864,235h-9" stroke="#222" stroke-width="3" opacity=".7"/>
<g><text x="2878" y="255">100</text><text x="2878" y="535">80</text><text x="2878" y="815">60</text><text x="2878" y="1094">40</text><text x="2878" y="1374">20</text><text x="2878" y="1638">0</text></g>

<!-- ================= PANEL D ================= -->
<g text-anchor="middle"><text x="341" y="1738">20</text><text x="508" y="1738">40</text><text x="666" y="1738">60</text><text x="829" y="1738">80</text></g>
<g text-anchor="end"><text x="177" y="1792">0</text><text x="177" y="2076">100</text><text x="177" y="2374">200</text><text x="177" y="2671">300</text><text x="177" y="2969">400</text><text x="177" y="3259">500</text></g>
<text transform="translate(54,2520) rotate(-90)" text-anchor="middle">Time/ms</text>
<rect x="195" y="1759" width="652" height="1487" fill="#00008F"/>
<rect x="628" y="1906" width="74" height="6" fill="url(#d50)" filter="url(#fd)"/>
<ellipse cx="500" cy="2205" rx="18" ry="6" fill="#2050C0" filter="url(#fd)"/>
<ellipse cx="500" cy="2205" rx="13" ry="3.5" fill="#6a9a88"/>
<rect x="326" y="2555" width="20" height="12" fill="#0060FF" filter="url(#fd)"/>
<rect x="329" y="2558" width="14" height="6" fill="url(#dsp)"/>
<rect x="396" y="2883" width="38" height="15" fill="#0050E0" filter="url(#fd)"/>
<rect x="398" y="2886" width="36" height="8" fill="url(#dsp)"/>
<rect x="396" y="2997" width="38" height="15" fill="#0050E0" filter="url(#fd)"/>
<rect x="398" y="3000" width="36" height="8" fill="url(#dsp)"/>
<path d="M341,1761v13M508,1761v13M666,1761v13M197,2056.4h14M197,2353.8h14M197,2651.2h14M197,2948.6h14" stroke="#fff" stroke-width="5"/>
<path d="M257,1761v12M421,1761v12M584,1761v12M746,1761v12M828,1761v12M257,3244v-12M338,3244v-12M420,3244v-12M502,3244v-12M584,3244v-12M665,3244v-12M746,3244v-12M828,3244v-12M197,1907.7h8M197,2205.1h8M197,2502.5h8M197,2799.9h8M197,3097.3h8M845,1907.7h-9M845,2056.4h-9M845,2205.1h-9M845,2353.8h-9M845,2502.5h-9M845,2651.2h-9M845,2799.9h-9M845,2948.6h-9M845,3097.3h-9" stroke="#111" stroke-width="2.5"/>
<rect x="195" y="1759" width="652" height="1487" fill="none" stroke="#000" stroke-width="5"/>
<text x="746" y="3194" style="fill:#fff">(d)</text>
<rect x="876" y="1759" width="54" height="1487" fill="url(#jet)" stroke="#333" stroke-width="1.5"/>
<path d="M876,3106.1h9M876,2966.2h9M876,2826.3h9M876,2686.4h9M876,2546.5h9M876,2406.6h9M876,2266.7h9M876,2126.8h9M876,1986.9h9M876,1847h9M930,3106.1h-9M930,2966.2h-9M930,2826.3h-9M930,2686.4h-9M930,2546.5h-9M930,2406.6h-9M930,2266.7h-9M930,2126.8h-9M930,1986.9h-9M930,1847h-9" stroke="#222" stroke-width="3" opacity=".7"/>
<g><text x="950" y="1867">100</text><text x="950" y="2147">80</text><text x="950" y="2427">60</text><text x="950" y="2706">40</text><text x="950" y="2986">20</text><text x="950" y="3252">0</text></g>

<!-- ================= PANEL E ================= -->
<g text-anchor="middle"><text x="1297" y="1715">20</text><text x="1460" y="1715">40</text><text x="1622" y="1715">60</text><text x="1786" y="1715">80</text></g>
<g text-anchor="end"><text x="1134" y="1769">0</text><text x="1134" y="2055">100</text><text x="1134" y="2353">200</text><text x="1134" y="2650">300</text><text x="1134" y="2948">400</text><text x="1134" y="3239">500</text></g>
<rect x="1153" y="1737" width="649" height="1489" fill="#00008F"/>
<g filter="url(#fl)">
<rect x="1153" y="1885" width="649" height="6" fill="url(#e50)"/>
<rect x="1153" y="2180" width="649" height="8" fill="url(#e150h)"/>
<rect x="1153" y="2183" width="649" height="2.5" fill="url(#e150)"/>
<rect x="1153" y="2537" width="649" height="8" fill="url(#e270)"/>
<rect x="1153" y="2864" width="649" height="9" fill="url(#e380)"/>
<rect x="1153" y="2980" width="649" height="7" fill="url(#e420)"/>
</g>
<path d="M1297,1739v13M1460,1739v13M1622,1739v13M1155,2332.6h14M1155,2630.4h14M1155,2928.2h14" stroke="#fff" stroke-width="5"/>
<path d="M1207,1739v12M1273,1739v12M1338,1739v12M1402,1739v12M1469,1739v12M1534,1739v12M1598,1739v12M1663,1739v12M1729,1739v12M1794,1739v12M1207,3224v-12M1273,3224v-12M1338,3224v-12M1402,3224v-12M1469,3224v-12M1534,3224v-12M1598,3224v-12M1663,3224v-12M1729,3224v-12M1794,3224v-12M1155,1885.9h8M1155,2183.7h8M1155,2481.5h8M1155,2779.3h8M1155,3077.1h8M1800,1885.9h-9M1800,2034.8h-9M1800,2183.7h-9M1800,2332.6h-9M1800,2481.5h-9M1800,2630.4h-9M1800,2779.3h-9M1800,2928.2h-9M1800,3077.1h-9" stroke="#111" stroke-width="2.5"/>
<rect x="1153" y="1737" width="649" height="1489" fill="none" stroke="#000" stroke-width="5"/>
<text x="1700" y="3182" style="fill:#fff">(e)</text>
<rect x="1832" y="1737" width="54" height="1489" fill="url(#jet)" stroke="#333" stroke-width="1.5"/>
<path d="M1832,3086h9M1832,2946h9M1832,2806h9M1832,2666h9M1832,2526h9M1832,2386h9M1832,2246h9M1832,2106h9M1832,1966h9M1832,1826h9M1886,3086h-9M1886,2946h-9M1886,2806h-9M1886,2666h-9M1886,2526h-9M1886,2386h-9M1886,2246h-9M1886,2106h-9M1886,1966h-9M1886,1826h-9" stroke="#222" stroke-width="3" opacity=".7"/>
<g><text x="1906" y="1846">100</text><text x="1906" y="2126">80</text><text x="1906" y="2406">60</text><text x="1906" y="2686">40</text><text x="1906" y="2966">20</text><text x="1906" y="3232">0</text></g>

<!-- ================= PANEL F ================= -->
<g text-anchor="middle"><text x="2271" y="1717">20</text><text x="2434" y="1717">40</text><text x="2597" y="1717">60</text><text x="2760" y="1717">80</text></g>
<g text-anchor="end"><text x="2112" y="1772">0</text><text x="2112" y="2055">100</text><text x="2112" y="2353">200</text><text x="2112" y="2650">300</text><text x="2112" y="2948">400</text><text x="2112" y="3239">500</text></g>
<rect x="2131" y="1737" width="650" height="1489" fill="#fff" stroke="#000" stroke-width="5"/>
<path d="M2271,1737v16M2434,1737v16M2597,1737v16M2760,1737v16M2271,3226v-16M2434,3226v-16M2597,3226v-16M2760,3226v-16M2131,1885.9h16M2131,2034.8h16M2131,2183.7h16M2131,2332.6h16M2131,2481.5h16M2131,2630.4h16M2131,2779.3h16M2131,2928.2h16M2131,3077.1h16M2781,1885.9h-16M2781,2034.8h-16M2781,2183.7h-16M2781,2332.6h-16M2781,2481.5h-16M2781,2630.4h-16M2781,2779.3h-16M2781,2928.2h-16M2781,3077.1h-16" stroke="#000" stroke-width="4"/>
<rect x="2562" y="1887.5" width="72" height="3" fill="#7CF57C"/>
<rect x="2415" y="2185.5" width="49" height="3" fill="#1E8CFF"/>
<rect x="2423" y="2183" width="25" height="8" fill="#0A78F0"/>
<rect x="2260" y="2543.5" width="24" height="3" fill="#FFE600"/>
<rect x="2265" y="2541" width="15" height="8" fill="#FFDD00"/>
<rect x="2343" y="2867" width="23" height="3" fill="#2040A0"/>
<rect x="2326" y="2874" width="40" height="4" fill="#1030A0"/>
<rect x="2334" y="2878" width="16" height="3" fill="#0000A0"/>
<rect x="2326" y="2982" width="19" height="3" fill="#1a2a8a"/>
<rect x="2334" y="2985" width="32" height="7" fill="#00008F"/>
<text x="2496" y="1906">0°</text>
<text x="2480" y="2210">-90°</text>
<text x="2306" y="2572">45°</text>
<text x="2387" y="2960">-180°</text>
<text x="2697" y="3192">(f)</text>
<rect x="2810" y="1739" width="53" height="1486" fill="url(#jet)" stroke="#333" stroke-width="1.5"/>
<path d="M2810,1862h9M2810,2069h9M2810,2277h9M2810,2481h9M2810,2688h9M2810,2894h9M2810,3101h9M2863,1862h-9M2863,2069h-9M2863,2277h-9M2863,2481h-9M2863,2688h-9M2863,2894h-9M2863,3101h-9" stroke="#222" stroke-width="3" opacity=".7"/>
<text x="2878" y="1746">(°)</text>
<g><text x="2878" y="1882">150</text><text x="2878" y="2089">100</text><text x="2878" y="2297">50</text><text x="2878" y="2501">0</text><text x="2878" y="2708">-50</text><text x="2878" y="2914">-100</text><text x="2878" y="3121">-150</text></g>
</svg>
</body></html>
